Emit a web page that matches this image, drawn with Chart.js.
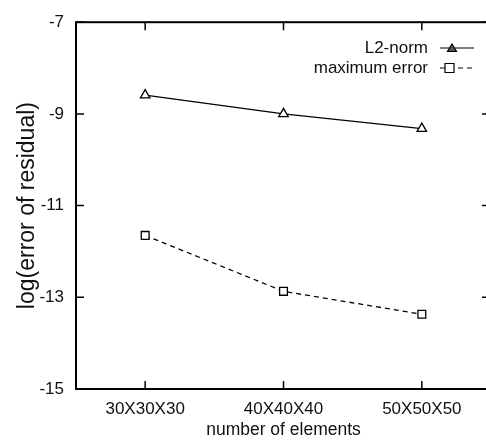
<!DOCTYPE html>
<html>
<head>
<meta charset="utf-8">
<script src="https://cdn.jsdelivr.net/npm/chart.js@4/dist/chart.umd.min.js"></script>
<style>
  html, body { margin: 0; padding: 0; background: #fff; overflow: hidden; }
  #clip { width: 486px; height: 442px; overflow: hidden; position: relative; }
  canvas { display: block; position: absolute; left: 0; top: 0; }
</style>
</head>
<body>
<div id="clip"><canvas id="errChart" width="491" height="442"></canvas></div>
<script>
// chart data
const meshes = ["30X30X30", "40X40X40", "50X50X50"];
const l2Norm = [-8.59, -9.0, -9.32];
const maxError = [-11.65, -12.87, -13.37];
const yTicks = [-15, -13, -11, -9, -7];

const font = "Liberation Sans, Arial, Helvetica, sans-serif";

// frame, inward ticks and legend, drawn like the gnuplot original
const framePlugin = {
  id: 'frame',
  afterDraw(chart) {
    const c = chart.ctx, a = chart.chartArea;
    const xs = chart.scales.x, ys = chart.scales.y;
    c.save();
    c.strokeStyle = '#000';
    c.lineWidth = 2;
    c.strokeRect(a.left, a.top, a.right - a.left, a.bottom - a.top);
    c.lineWidth = 1.5;
    c.beginPath();
    yTicks.forEach(v => {
      const y = ys.getPixelForValue(v);
      c.moveTo(a.left, y); c.lineTo(a.left + 8, y);
      c.moveTo(a.right - 9, y); c.lineTo(a.right, y);
    });
    meshes.forEach((m, i) => {
      const x = xs.getPixelForValue(i);
      c.moveTo(x, a.bottom); c.lineTo(x, a.bottom - 8);
      c.moveTo(x, a.top); c.lineTo(x, a.top + 8);
    });
    c.stroke();

    // legend
    c.fillStyle = '#111';
    c.font = '17px ' + font;
    c.textAlign = 'right';
    c.textBaseline = 'middle';
    chart.data.datasets.forEach((ds, i) => {
      const y = 48 + i * 20;
      c.fillText(ds.label, 428, y);
      c.lineWidth = 1.2;
      c.setLineDash(ds.borderDash || []);
      c.beginPath();
      c.moveTo(440, y); c.lineTo(474, y);
      c.stroke();
      c.setLineDash([]);
      c.beginPath();
      if (ds.pointStyle === 'triangle') {
        c.moveTo(452, y - 4); c.lineTo(456.5, y + 3.5); c.lineTo(447.5, y + 3.5); c.closePath();
        c.fillStyle = '#555'; c.fill(); c.fillStyle = '#111';
      } else {
        c.rect(445, y - 4.5, 9, 9);
        c.fillStyle = '#fff'; c.fill(); c.fillStyle = '#111';
      }
      c.stroke();
    });
    c.restore();
  }
};

const ctx = document.getElementById('errChart').getContext('2d');
new Chart(ctx, {
  type: 'line',
  data: {
    labels: meshes,
    datasets: [{
      label: 'L2-norm',
      data: l2Norm,
      borderColor: '#000',
      borderWidth: 1.3,
      pointStyle: 'triangle',
      pointRadius: 5.5,
      pointBorderWidth: 1.3,
      pointBackgroundColor: '#fff',
      pointBorderColor: '#000',
      tension: 0
    }, {
      label: 'maximum error',
      data: maxError,
      borderColor: '#000',
      borderWidth: 1.3,
      borderDash: [5, 4],
      pointStyle: 'rect',
      pointRadius: 5.5,
      pointBorderWidth: 1.3,
      pointBackgroundColor: '#fff',
      pointBorderColor: '#000',
      tension: 0
    }]
  },
  options: {
    responsive: false,
    animation: false,
    layout: { autoPadding: false, padding: { top: 17, right: 0, left: 0, bottom: 0 } },
    plugins: { legend: { display: false }, tooltip: { enabled: false } },
    scales: {
      x: {
        type: 'category',
        offset: true,
        grid: { display: false, drawTicks: false },
        border: { display: false },
        afterFit: s => { s.height = 53; },
        ticks: { color: '#111', padding: 10, font: { family: font, size: 17 } },
        title: {
          display: true, text: 'number of elements', color: '#111',
          font: { family: font, size: 17.5 }, padding: { top: 0, bottom: 1 }
        }
      },
      y: {
        min: -15, max: -7,
        afterBuildTicks: s => { s.ticks = yTicks.map(v => ({ value: v })); },
        afterFit: s => { s.width = 76; },
        grid: { display: false, drawTicks: false },
        border: { display: false },
        ticks: { color: '#111', padding: 12, font: { family: font, size: 17 } },
        title: {
          display: true, text: 'log(error of residual)', color: '#111',
          font: { family: font, size: 23 }, padding: { top: 14, bottom: 0 }
        }
      }
    }
  },
  plugins: [framePlugin]
});
</script>
</body>
</html>
